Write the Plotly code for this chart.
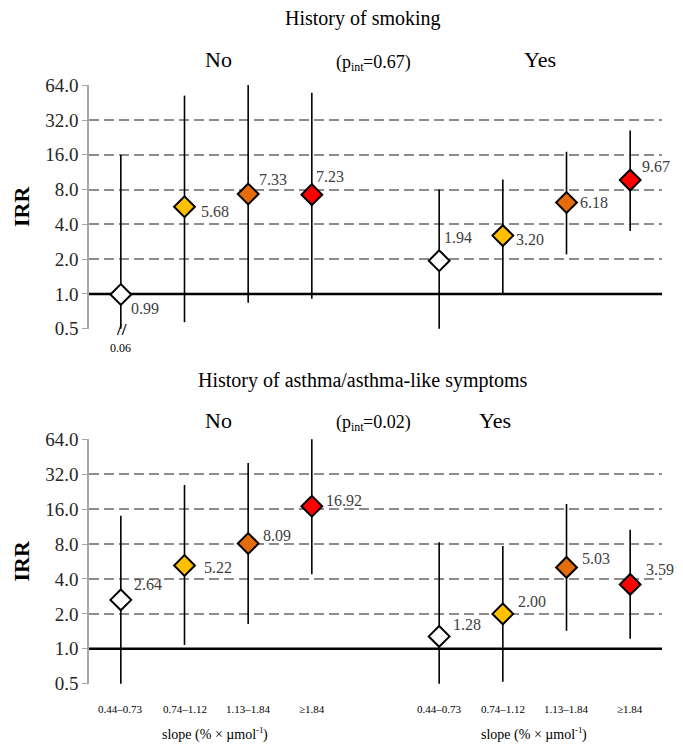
import numpy as np
import plotly.graph_objects as go

W, H = 683, 745
FONT = "Liberation Serif"

# ---------------- data ----------------
categories = ["0.44–0.73", "0.74–1.12", "1.13–1.84", "≥1.84"]
groups = ["No", "Yes"]
marker_colors = ["#FFFFFF", "#FFC000", "#E46C0A", "#FF0000"]

# History of smoking
smoking_irr_no = [0.99, 5.68, 7.33, 7.23]
smoking_lo_no = [0.06, 0.57, 0.84, 0.91]
smoking_hi_no = [16.0, 52.0, 70.0, 55.0]
smoking_irr_yes = [1.94, 3.20, 6.18, 9.67]
smoking_lo_yes = [0.50, 1.00, 2.20, 3.50]
smoking_hi_yes = [8.0, 9.8, 17.0, 26.0]
smoking_pint = "0.67"

# History of asthma/asthma-like symptoms
asthma_irr_no = [2.64, 5.22, 8.09, 16.92]
asthma_lo_no = [0.50, 1.08, 1.64, 4.40]
asthma_hi_no = [14.0, 25.8, 40.0, 64.0]
asthma_irr_yes = [1.28, 2.00, 5.03, 3.59]
asthma_lo_yes = [0.50, 0.52, 1.43, 1.22]
asthma_hi_yes = [8.3, 7.7, 17.7, 10.6]
asthma_pint = "0.02"

ytick_vals = [0.5, 1, 2, 4, 8, 16, 32, 64]
ytick_text = ["0.5", "1.0", "2.0", "4.0", "8.0", "16.0", "32.0", "64.0"]
reference_irr = 1.0
axis_min, axis_max = 0.5, 64.0

# label offsets (px): (dx to left edge, dy downward)
smoking_offsets = [[(9, 14), (15, 5), (10, -14), (3, -18)],
                   [(4, -23), (12, 4), (12, 0), (11, -14)]]
asthma_offsets = [[(12, -15), (18, 2), (14, -8), (13, -6)],
                  [(13, -12), (14, -12), (14, -9), (15, -15)]]

n_cat = len(categories)
slots = len(groups) * (n_cat + 1) - 1


def xpos(g, i):
    return g * (n_cat + 1) + i + 0.5


panels = [
    dict(title="History of smoking", pint=smoking_pint,
         irr=[smoking_irr_no, smoking_irr_yes],
         lo=[smoking_lo_no, smoking_lo_yes],
         hi=[smoking_hi_no, smoking_hi_yes],
         offs=smoking_offsets, xa="x", ya="y",
         top=85, bottom=329, title_y=18, grp_y=60, yes_x=540),
    dict(title="History of asthma/asthma-like symptoms", pint=asthma_pint,
         irr=[asthma_irr_no, asthma_irr_yes],
         lo=[asthma_lo_no, asthma_lo_yes],
         hi=[asthma_hi_no, asthma_hi_yes],
         offs=asthma_offsets, xa="x2", ya="y2",
         top=439, bottom=684, title_y=380, grp_y=420, yes_x=495),
]

fig = go.Figure()
annotations = []
X0, X1 = 89, 662


def px(x):
    return x / W


def py(y):
    return 1 - y / H


def txt(text, x, y, size, xref="paper", yref="paper", xanchor="center",
        yanchor="middle", color="black", **kw):
    d = dict(x=x, y=y, xref=xref, yref=yref, text=text, showarrow=False,
             xanchor=xanchor, yanchor=yanchor, borderpad=0, borderwidth=0,
             font=dict(family=FONT, size=size, color=color))
    d.update(kw)
    annotations.append(d)


for pi, p in enumerate(panels):
    xa, ya = p["xa"], p["ya"]
    # reference line
    fig.add_trace(go.Scatter(x=[0, slots], y=[reference_irr, reference_irr],
                             mode="lines", line=dict(color="black", width=2.5),
                             xaxis=xa, yaxis=ya, hoverinfo="skip", showlegend=False))
    # CI lines
    for g in range(len(groups)):
        for i in range(n_cat):
            x = xpos(g, i)
            lo = max(p["lo"][g][i], axis_min)
            hi = min(p["hi"][g][i], axis_max * 1.01)
            fig.add_trace(go.Scatter(x=[x, x], y=[lo, hi], mode="lines",
                                     line=dict(color="black", width=1.6),
                                     xaxis=xa, yaxis=ya, hoverinfo="skip",
                                     showlegend=False))
    # markers + value labels
    for g in range(len(groups)):
        xs = [xpos(g, i) for i in range(n_cat)]
        fig.add_trace(go.Scatter(x=xs, y=p["irr"][g], mode="markers",
                                 marker=dict(symbol="diamond", size=16,
                                             color=marker_colors,
                                             line=dict(color="black", width=2)),
                                 cliponaxis=False, xaxis=xa, yaxis=ya,
                                 showlegend=False))
        for i in range(n_cat):
            dx, dy = p["offs"][g][i]
            v = p["irr"][g][i]
            txt(f"{v:.2f}", xpos(g, i), np.log10(v), 16, xref=xa, yref=ya,
                xanchor="left", color="#404040", xshift=dx + 1, yshift=-dy)
        # category labels under the bottom panel
        if pi == 1:
            for i in range(n_cat):
                txt(categories[i], xpos(g, i), py(709), 11, xref="x2")
            # slope label: main text, superscript, closing paren
            c = (xpos(g, 0) + xpos(g, n_cat - 1)) / 2
            txt("slope (% × µmol", c, py(735), 14, xref="x2", xanchor="right", xshift=40)
            txt("-1", c, py(735), 9, xref="x2", xanchor="left", xshift=40, yshift=5)
            txt(")", c, py(735), 14, xref="x2", xanchor="left", xshift=47)
    # titles
    txt(p["title"], px(363), py(p["title_y"]), 20)
    txt(groups[0], px(218), py(p["grp_y"]), 22)
    txt(groups[1], px(p["yes_x"]), py(p["grp_y"]), 22)
    # (p_int=...) built from pieces
    yy = py(p["grp_y"] + 2)
    txt("(p", px(373), yy, 18, xanchor="right", xshift=-22)
    txt("int", px(373), yy, 12, xanchor="left", xshift=-22, yshift=-5)
    txt(f"={p['pint']})", px(373), yy, 18, xanchor="left", xshift=-10)
    # y title
    txt("<b>IRR</b>", px(21), py((p["top"] + p["bottom"]) / 2), 22, textangle=-90)

# break marker and true lower bound for the smoking/No/first category
txt("<b>//</b>", xpos(0, 0), np.log10(axis_min), 17, xref="x", yref="y",
    xshift=1, yshift=-1)
txt(f"{smoking_lo_no[0]:.2f}", xpos(0, 0), np.log10(axis_min), 12, xref="x", yref="y",
    yshift=-19)

yaxis_common = dict(type="log", tickvals=ytick_vals, ticktext=ytick_text,
                    range=[np.log10(axis_min) - 0.002, np.log10(axis_max) + 0.002],
                    showgrid=True, gridcolor="#8c8c8c", gridwidth=2, griddash="10px,5px",
                    showline=True, linecolor="#a6a6a6", linewidth=1.5,
                    ticks="outside", ticklen=5, tickcolor="#a6a6a6",
                    tickfont=dict(family=FONT, size=19, color="#262626"),
                    zeroline=False, automargin=False, fixedrange=True)

xaxis_common = dict(range=[0, slots], showgrid=False, zeroline=False, showline=False,
                    showticklabels=False, automargin=False, fixedrange=True)

fig.update_layout(
    width=W, height=H, margin=dict(l=0, r=0, t=0, b=0),
    paper_bgcolor="white", plot_bgcolor="white",
    xaxis=dict(**xaxis_common, domain=[px(X0), px(X1)], anchor="y"),
    yaxis=dict(**yaxis_common, domain=[py(329), py(85)], anchor="x"),
    xaxis2=dict(**xaxis_common, domain=[px(X0), px(X1)], anchor="y2"),
    yaxis2=dict(**yaxis_common, domain=[py(684), py(439)], anchor="x2"),
    annotations=annotations,
    showlegend=False,
)

fig.write_html("out.html", config={"displayModeBar": False},
               post_script="document.body.style.margin='0px';")
